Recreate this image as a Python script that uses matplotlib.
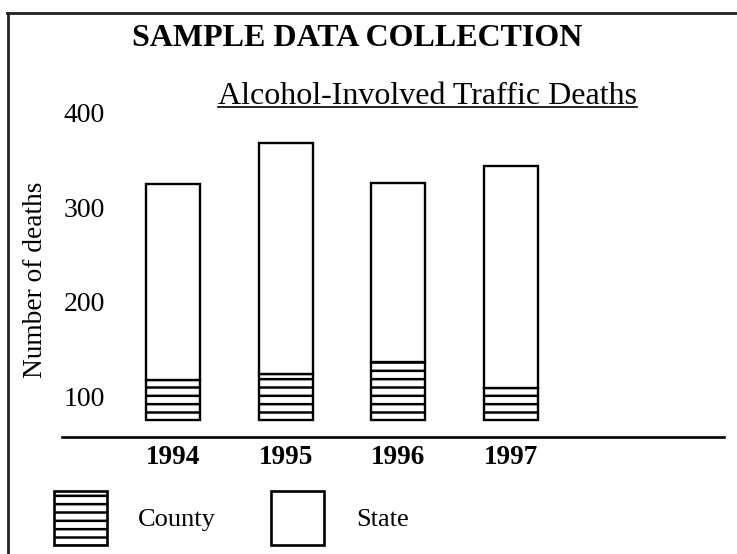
import numpy as np
import matplotlib
matplotlib.use("Agg")
import matplotlib.pyplot as plt
from matplotlib.lines import Line2D
from matplotlib.patches import Patch

plt.rcParams['font.family'] = ['Liberation Serif', 'DejaVu Serif']
plt.rcParams['hatch.linewidth'] = 1.8

years = ['1994', '1995', '1996', '1997']
county = [118, 124, 137, 109]
state = [325, 368, 326, 344]
base = 75
yticks = [100, 200, 300, 400]

fig = plt.figure(figsize=(7.37, 5.54), dpi=100)
ax = fig.add_axes([62/737, 1-437/554, (724-62)/737, (437-112.5)/554])

x = np.arange(len(years))
w = 0.48
county_h = [c - base for c in county]
state_h = [s - c for s, c in zip(state, county)]
ax.bar(x, county_h, w, bottom=base, facecolor='white', edgecolor='black',
       linewidth=1.7, hatch='--')
ax.bar(x, state_h, w, bottom=county, facecolor='white', edgecolor='black',
       linewidth=1.7)

ax.set_xlim(-0.985, 4.889)
ax.set_ylim(57.5, 400)
ax.set_xticks(x)
ax.set_xticklabels(years, fontsize=19.5, fontweight='bold')
ax.set_yticks(yticks)
ax.set_yticklabels([str(t) for t in yticks], fontsize=20)
ax.tick_params(axis='x', length=0, pad=6)
ax.tick_params(axis='y', length=0, pad=-31)
for s in ['top', 'right', 'left']:
    ax.spines[s].set_visible(False)
ax.spines['bottom'].set_linewidth(1.9)

fig.text(36/737, 1-280/554, 'Number of deaths', rotation=90,
         ha='center', va='center', fontsize=19.7)

fig.text(357.5/737, 1-38/554, 'SAMPLE DATA COLLECTION', ha='center',
         va='center', fontsize=23, fontweight='bold')
sub = fig.text(427.5/737, 1-96/554, 'Alcohol-Involved Traffic Deaths',
               ha='center', va='center', fontsize=23)

# underline for the subtitle
fig.canvas.draw()
bb = sub.get_window_extent()
W, H = fig.get_size_inches() * fig.dpi
fig.add_artist(Line2D([bb.x0/W, bb.x1/W], [1-107/554, 1-107/554],
                      color='black', lw=1.2))

# frame
fig.add_artist(Line2D([7/737, 1], [1-13/554, 1-13/554], color='#222222', lw=2))
fig.add_artist(Line2D([8/737, 8/737], [0, 1-13/554], color='#222222', lw=2))

handles = [Patch(facecolor='white', edgecolor='black', hatch='--', lw=1.9),
           Patch(facecolor='white', edgecolor='black', lw=1.9)]
fig.legend(handles, ['County', 'State'], ncol=2, frameon=False,
           loc='lower left', bbox_to_anchor=(30/737, -15/554),
           fontsize=19, handlelength=2.0, handleheight=2.8,
           handletextpad=1.2, columnspacing=2.1)

fig.savefig('out.png', dpi=100)
